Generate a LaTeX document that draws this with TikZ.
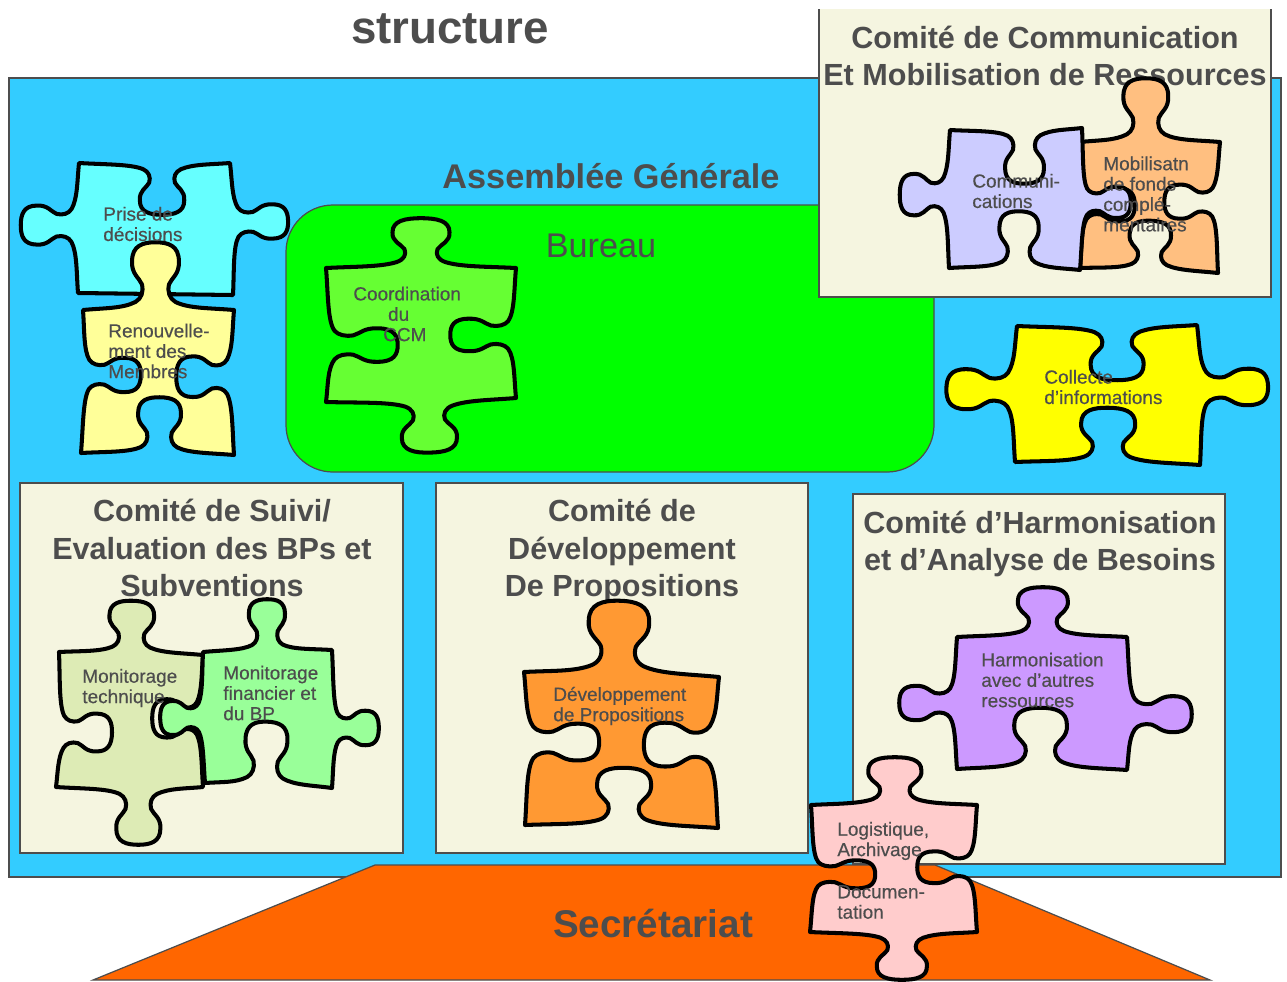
\documentclass[tikz,border=0pt]{standalone}
\usepackage{fontspec}
\setmainfont{Liberation Sans}
\newfontfamily\etiqfont[FakeBold=.4]{Liberation Sans}
\usetikzlibrary{calc}
\definecolor{gristexte}{HTML}{4D4D4D}
\definecolor{fondbleu}{HTML}{33CCFF}
\definecolor{fondvert}{HTML}{00FF00}
\definecolor{beige}{HTML}{F5F5E0}
\definecolor{orangesec}{HTML}{FF6600}
\newcommand{\pp}[2]{($(\tikztostart)!{#1}!(\tikztotarget)!{(#2)*.5669pt}!90:(\tikztotarget)$)}
\tikzset{
  piece/.style={draw=black,line width=2.3pt,line join=round},
  lug/.style n args={3}{to path={
    .. controls \pp{(#1-.85*#3)*.4}{#2*.03} and \pp{#1-1.4*#3}{#2*.02} .. \pp{#1-.85*#3}{#2*.12}
    .. controls \pp{#1-.6*#3}{#2*.17} and \pp{#1-.5*#3}{#2*.27} .. \pp{#1-.58*#3}{#2*.38}
    .. controls \pp{#1-.7*#3}{#2*.48} and \pp{#1-1.03*#3}{#2*.53} .. \pp{#1-#3}{#2*.72}
    .. controls \pp{#1-1*#3}{#2*.95} and \pp{#1-.55*#3}{#2} .. \pp{#1}{#2}
    .. controls \pp{#1+.55*#3}{#2} and \pp{#1+1*#3}{#2*.95} .. \pp{#1+#3}{#2*.72}
    .. controls \pp{#1+1.03*#3}{#2*.53} and \pp{#1+.7*#3}{#2*.48} .. \pp{#1+.58*#3}{#2*.38}
    .. controls \pp{#1+.5*#3}{#2*.27} and \pp{#1+.6*#3}{#2*.17} .. \pp{#1+.85*#3}{#2*.12}
    .. controls \pp{#1+1.4*#3}{#2*.02} and \pp{1-(1-#1-.85*#3)*.4}{#2*.03} .. (\tikztotarget)
  }},
  comitebox/.style={fill=beige,draw=gristexte,line width=1.2pt},
  heading/.style={text=gristexte,font=\fontsize{17.4}{21.2}\selectfont\bfseries,align=center,inner sep=0pt},
  etiquette/.style={text=gristexte,font=\etiqfont\fontsize{10.8}{11.6}\selectfont,align=left,anchor=west,inner sep=0pt}
}
\begin{document}
\begin{tikzpicture}[x=0.02cm,y=-0.02cm]
  \useasboundingbox (0,0) rectangle (1287,981);
  \draw [fill=fondbleu,draw=gristexte,line width=1.2pt] (9,78) rectangle (1281,877);
  \draw [fill=fondvert,draw=gristexte,line width=.7pt,rounded corners=.94cm] (286,205) rectangle (934,472);
  \fill [beige] (819,9) rectangle (1271,297);
  \draw [gristexte,line width=1.2pt] (819,9)--(819,297)--(1271,297)--(1271,9);
  \foreach \xa/\ya/\xb/\yb in {20/483/403/853,436/483/808/853,853/494/1225/864}
    \draw [comitebox] (\xa,\ya) rectangle (\xb,\yb);
  \draw [fill=orangesec,draw=gristexte,line width=.7pt] (375,865)--(935,865)--(1210,980)--(93,980)--cycle;

  \node (titre) [text=gristexte,font=\fontsize{26}{30}\selectfont\bfseries,inner sep=0pt] at (450,29) {structure};
  \node (assemblee) [text=gristexte,font=\fontsize{19.5}{23}\selectfont\bfseries,inner sep=0pt] at (611,176) {Assemblée Générale};
  \node (bureau) [text=gristexte,font=\fontsize{19.5}{23}\selectfont,inner sep=0pt] at (601,246) {Bureau};
  \node (secretariat) [text=gristexte,font=\fontsize{22}{26}\selectfont\bfseries,inner sep=0pt] at (653,923) {Secrétariat};
  \node (comcom) [heading] at (1045,56) {Comité de Communication\\Et Mobilisation de Ressources};
  \node (comsuivi) [heading] at (212,548) {Comité de Suivi/\\Evaluation des BPs et\\Subventions};
  \node (comdev) [heading] at (622,551) {Comité de\\Développement\\De Propositions};
  \node (comharm) [heading] at (1040,544) {Comité d’Harmonisation\\et d’Analyse de Besoins};

  \draw [piece,fill={rgb,255:red,102;green,255;blue,255}] (79,163) to[lug={.55}{-52}{.147}] (230,163)
    to[lug={.45}{57}{.13}] (233,295) -- (78,293) to[lug={.52}{58}{.15}] (79,163) -- cycle;
  \draw [piece,fill={rgb,255:red,255;green,255;blue,153}] (83,310) to[lug={.48}{68}{.155}] (234,310)
    to[lug={.46}{-58}{.14}] (234,455) to[lug={.49}{-57}{.14}] (81,453) to[lug={.55}{-59}{.12}] (83,310) -- cycle;
  \node (prise) [etiquette] at (103,224) {Prise de\\décisions};
  \node (renouv) [etiquette] at (108,351) {Renouvelle-\\ment des\\Membres};

  \draw [piece,fill={rgb,255:red,102;green,255;blue,51}] (326,268) to[lug={.5}{50}{.15}] (516,268)
    to[lug={.515}{-66}{.125}] (516,398) to[lug={.46}{53}{.145}] (326,402) to[lug={.425}{-72}{.125}] (326,268) -- cycle;
  \node (coord) [etiquette] at (353,314) {Coordination\\\hspace*{19.8pt}du\\\hspace*{17pt}CCM};

  \draw [piece,fill={rgb,255:red,255;green,191;blue,128}] (1080,142) to[lug={.47}{64}{.16}] (1220,142)
    to[lug={.46}{-55}{.13}] (1218,273) to[lug={.5}{-50}{.15}] (1080,268) to[lug={.5}{-55}{.13}] (1080,142) -- cycle;
  \draw [piece,fill={rgb,255:red,204;green,204;blue,255}] (950,130) to[lug={.56}{-55}{.147}] (1082,128)
    to[lug={.52}{50}{.11}] (1080,270) to[lug={.47}{-58}{.15}] (949,268) to[lug={.53}{50}{.15}] (950,130) -- cycle;
  \node (commu) [etiquette] at (972,191) {Communi-\\cations};
  \node (mobil) [etiquette] at (1103,194) {Mobilisatn\\de fonds\\complé-\\mentaires};

  \draw [piece,fill={rgb,255:red,255;green,255;blue,0}] (1017,326) to[lug={.555}{-55}{.147}] (1197,325)
    to[lug={.45}{70}{.13}] (1200,465) to[lug={.5}{-56}{.146}] (1015,462) to[lug={.53}{70}{.147}] (1017,326) -- cycle;
  \node (collecte) [etiquette] at (1044,387) {Collecte\\d’informations};

  \draw [piece,fill={rgb,255:red,221;green,235;blue,181}] (59,652) to[lug={.5}{53}{.155}] (203,655)
    to[lug={.48}{-51}{.145}] (203,787) to[lug={.44}{58}{.15}] (56,787) to[lug={.41}{-55}{.14}] (59,652) -- cycle;
  \draw [piece,fill={rgb,255:red,153;green,255;blue,153}] (203,652) to[lug={.5}{52}{.14}] (332,650)
    to[lug={.565}{47}{.125}] (332,788) to[lug={.53}{-64}{.165}] (205,783) to[lug={.5}{44}{.13}] (203,652) -- cycle;
  \node (montech) [etiquette] at (82,688) {Monitorage\\technique};
  \node (monfin) [etiquette] at (223,693) {Monitorage\\financier et\\du BP};

  \draw [piece,fill={rgb,255:red,255;green,153;blue,51}] (524,672) to[lug={.48}{74}{.155}] (719,677)
    to[lug={.45}{-75}{.145}] (718,828) to[lug={.49}{-59}{.14}] (525,825) to[lug={.54}{-75}{.12}] (524,672) -- cycle;
  \node (devprop) [etiquette] at (553,706) {Développement\\de Propositions};

  \draw [piece,fill={rgb,255:red,204;green,153;blue,255}] (957,637) to[lug={.505}{50}{.147}] (1127,637)
    to[lug={.58}{65}{.135}] (1127,770) to[lug={.51}{-62}{.155}] (957,769) to[lug={.5}{58}{.13}] (957,637) -- cycle;
  \node (harmon) [etiquette] at (981,680) {Harmonisation\\avec d’autres\\ressources};

  \draw [piece,fill={rgb,255:red,255;green,204;blue,204}] (811,805) to[lug={.505}{48}{.16}] (977,805)
    to[lug={.49}{-60}{.125}] (977,932) to[lug={.45}{48}{.15}] (810,932) to[lug={.457}{-65}{.11}] (811,805) -- cycle;
  \node (logist) [etiquette] at (837,841) {Logistique,\\Archivage};
  \node (docum) [etiquette] at (837,902) {Documen-\\tation};
\end{tikzpicture}
\end{document}
